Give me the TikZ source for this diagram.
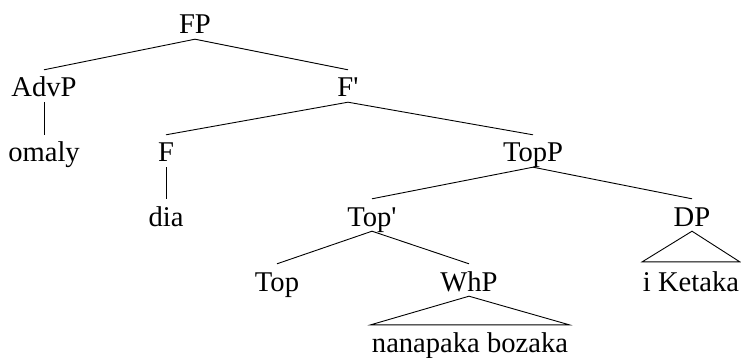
\documentclass[tikz,border=0pt]{standalone}
\usepackage{fontspec}
\setmainfont{Liberation Serif}
\begin{document}
\begin{tikzpicture}[x=1pt,y=-1pt,
  lab/.style={anchor=base, inner sep=0pt, text height=27pt, text depth=5pt, font=\fontsize{28.6}{30}\selectfont},
  edge/.style={line width=0.9pt}]
\useasboundingbox (0,0) rectangle (741,358);
\node[lab] (FP) at (195,34) {FP};
\node[lab] (AdvP) at (44,97) {AdvP};
\node[lab] (Fbar) at (348,97) {F\textquotesingle};
\node[lab] (omaly) at (44,162) {omaly};
\node[lab] (F) at (166,162) {F};
\node[lab] (TopP) at (533,162) {TopP};
\node[lab] (dia) at (166,226) {dia};
\node[lab] (Topbar) at (372,226) {Top\textquotesingle};
\node[lab] (DP) at (692,226) {DP};
\node[lab] (Top) at (277,291) {Top};
\node[lab] (WhP) at (469,291) {WhP};
\node[lab, inner xsep=0.5pt, text height=29pt] (iK) at (691,291) {i Ketaka};
\node[lab, inner xsep=1pt] (nb) at (470,352) {nanapaka bozaka};
\draw[edge] (AdvP.north) -- (FP.south) -- (Fbar.north);
\draw[edge] (AdvP.south) -- (omaly.north);
\draw[edge] (F.north) -- (Fbar.south) -- (TopP.north);
\draw[edge] (F.south) -- (dia.north);
\draw[edge] (Topbar.north) -- (TopP.south) -- (DP.north);
\draw[edge] (Top.north) -- (Topbar.south) -- (WhP.north);
\draw[edge] (nb.north west) -- (WhP.south) -- (nb.north east) -- cycle;
\draw[edge] (iK.north west) -- (DP.south) -- (iK.north east) -- cycle;
\end{tikzpicture}
\end{document}
